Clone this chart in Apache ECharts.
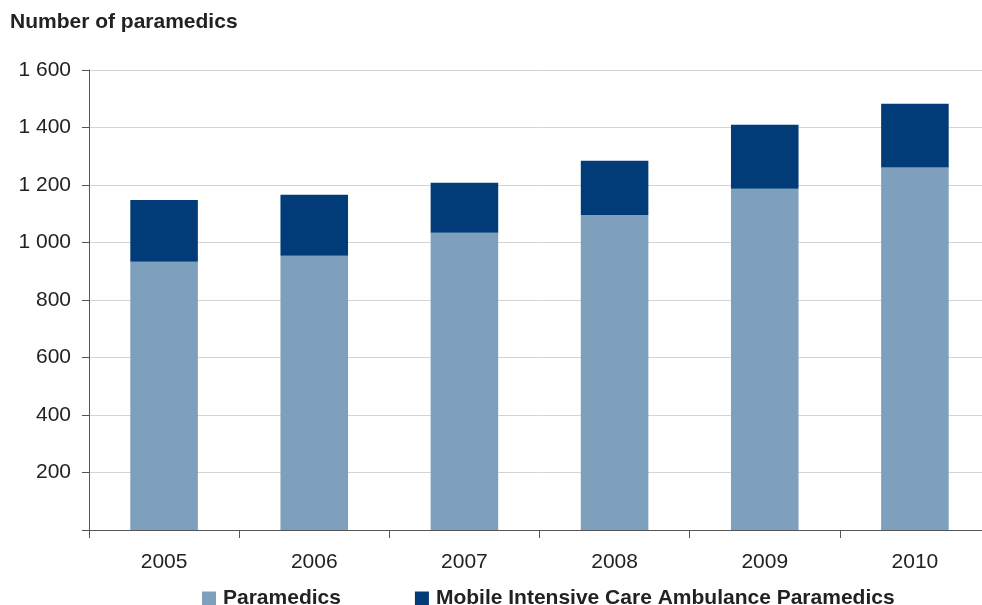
<!DOCTYPE html>
<html>
<head>
<meta charset="utf-8">
<script src="https://cdn.jsdelivr.net/npm/echarts@6/dist/echarts.min.js"></script>
<style>
  html, body { margin: 0; padding: 0; background: #fff; overflow: hidden; }
  /* plot area runs a little past the right edge, as in the source */
  #chart { width: 990px; height: 605px; }
</style>
</head>
<body>
<div id="chart"></div>
<script>
const years = ["2005", "2006", "2007", "2008", "2009", "2010"];
const paramedics = [933, 954, 1034, 1096, 1187, 1261];
const mica = [215, 212, 174, 188, 223, 222];
const seriesNames = ["Paramedics", "Mobile Intensive Care Ambulance Paramedics"];

const font = "'Liberation Sans', Arial, sans-serif";

// 1 600 style labels, hide the 0
const fmt = (v) => (v === 0 ? "" : String(v).replace(/\B(?=(\d{3})+(?!\d))/g, " "));

const chart = echarts.init(document.getElementById("chart"), null, { renderer: "canvas" });

chart.setOption({
  animation: false,
  backgroundColor: "#fff",
  title: {
    text: "Number of paramedics",
    left: 10,
    top: 12,
    padding: 0,
    textStyle: { fontFamily: font, fontSize: 21, fontWeight: "bold", color: "#222" },
  },
  legend: {
    left: 202,
    top: 588,
    padding: 0,
    itemWidth: 14,
    itemHeight: 14,
    itemGap: 74,
    icon: "rect",
    textStyle: { fontFamily: font, fontSize: 21, fontWeight: "bold", color: "#222", padding: [0, 0, 0, 2] },
    data: seriesNames,
  },
  grid: { left: 89, top: 70, width: 901, height: 460, containLabel: false },
  xAxis: {
    type: "category",
    data: years,
    axisLine: { lineStyle: { color: "#555", width: 1 } },
    axisTick: { show: true, length: 8, alignWithLabel: false, lineStyle: { color: "#555" } },
    axisLabel: { fontFamily: font, fontSize: 21, color: "#222", margin: 22 },
  },
  yAxis: {
    type: "value",
    min: 0,
    max: 1600,
    interval: 200,
    axisLine: { show: true, lineStyle: { color: "#555", width: 1 } },
    axisTick: { show: true, length: 7, lineStyle: { color: "#555" } },
    axisLabel: { fontFamily: font, fontSize: 21, color: "#222", margin: 18, formatter: fmt },
    splitLine: { lineStyle: { color: "#d4d4d4", width: 1 } },
  },
  series: [
    {
      name: seriesNames[0],
      type: "bar",
      stack: "total",
      barWidth: "45%",
      itemStyle: { color: "#7fa0bd" },
      data: paramedics,
    },
    {
      name: seriesNames[1],
      type: "bar",
      stack: "total",
      barWidth: "45%",
      itemStyle: { color: "#023c78" },
      data: mica,
    },
  ],
});
</script>
</body>
</html>
